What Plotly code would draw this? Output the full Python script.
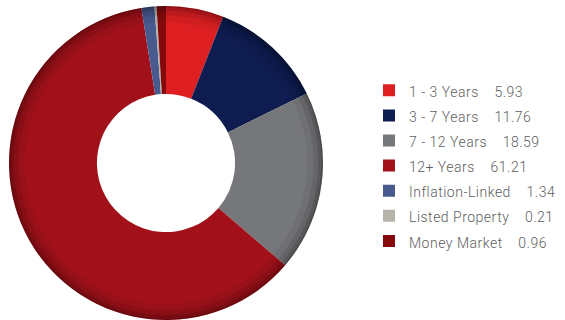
import plotly.graph_objects as go

categories = ["1 - 3 Years", "3 - 7 Years", "7 - 12 Years", "12+ Years",
              "Inflation-Linked", "Listed Property", "Money Market"]
values = [5.93, 11.76, 18.59, 61.21, 1.34, 0.21, 0.96]
colors = ["#DD1F22", "#0E1C50", "#76777B", "#A2111A", "#485A8E", "#B6B4AA", "#860A0C"]

W, H = 565, 320
gap = "\u00a0" * 4
legend_labels = [f'<span style="font-size:14px;letter-spacing:0.5px;font-weight:300">{c}{gap}{v:.2f}</span>'
                 for c, v in zip(categories, values)]

dom_x = [9 / W, 323 / W]
dom_y = [0, 1]

fig = go.Figure()
fig.add_trace(go.Pie(
    labels=legend_labels, values=values, hole=0.44, sort=False,
    direction="clockwise", rotation=0,
    marker=dict(colors=colors, line=dict(width=0)),
    textinfo="none", domain=dict(x=dom_x, y=dom_y),
))
# edge shading rings (3D look)
for h, a in [(0.90, 0.06), (0.94, 0.09), (0.97, 0.12), (0.99, 0.15)]:
    fig.add_trace(go.Pie(
        labels=[f"shade{h}"], values=[1], hole=h, sort=False,
        marker=dict(colors=[f"rgba(0,0,0,{a})"], line=dict(width=0)),
        textinfo="none", hoverinfo="skip", showlegend=False,
        domain=dict(x=dom_x, y=dom_y),
    ))

fig.update_layout(
    width=W, height=H,
    margin=dict(l=0, r=0, t=6, b=0),
    paper_bgcolor="white", plot_bgcolor="white",
    showlegend=True,
    legend=dict(
        x=369 / W, xanchor="left", y=1 - 68 / H, yanchor="top",
        font=dict(family="Roboto", size=17, color="#5E5E5E"),
        bgcolor="rgba(0,0,0,0)", borderwidth=0,
    ),
)
fig.write_html("out.html")
